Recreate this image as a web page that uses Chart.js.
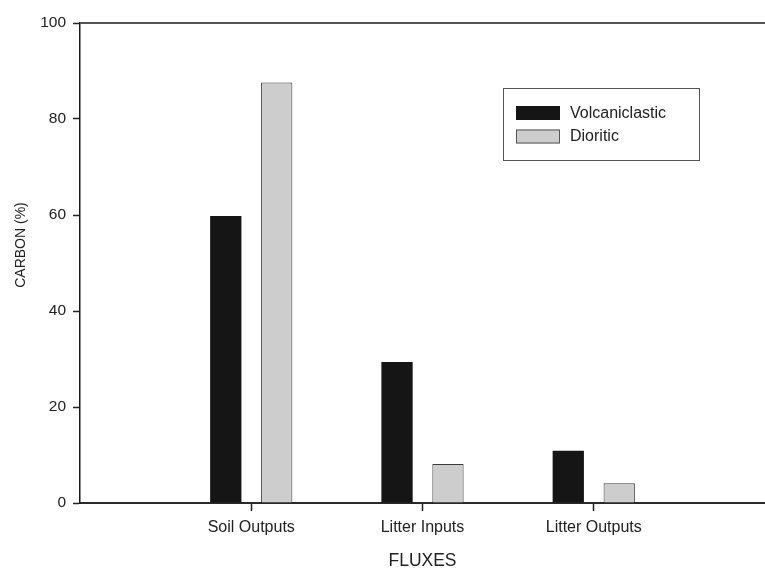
<!DOCTYPE html>
<html>
<head>
<meta charset="utf-8">
<script src="https://cdn.jsdelivr.net/npm/chart.js@4/dist/chart.umd.min.js"></script>
<style>
  html, body { margin: 0; padding: 0; background: #fff; }
  canvas { display: block; }
</style>
</head>
<body>
<canvas id="chart" width="765" height="568"></canvas>
<script>
// Carbon fluxes by substrate type
const categories = ['Soil Outputs', 'Litter Inputs', 'Litter Outputs'];
const categoryPositions = [1, 2, 3];
const volcaniclastic = [59.8, 29.4, 10.9];
const dioritic = [87.6, 8.1, 4.1];
const yTicks = [0, 20, 40, 60, 80, 100];
const seriesNames = ['Volcaniclastic', 'Dioritic'];
const yAxisTitle = 'CARBON (%)';
const xAxisTitle = 'FLUXES';

const FONT = '"Liberation Sans", Arial, Helvetica, sans-serif';

function toPoints(values) {
  return categoryPositions.map((x, i) => ({ x: x, y: values[i] }));
}

// Top frame line, the vertical axis title and the boxed legend
const framePlugin = {
  id: 'frameAndLegend',
  afterDraw(chart) {
    const { ctx, chartArea } = chart;
    ctx.save();
    ctx.strokeStyle = '#555';
    ctx.lineWidth = 2;
    ctx.beginPath();
    ctx.moveTo(chartArea.left, chartArea.top);
    ctx.lineTo(chartArea.right, chartArea.top);
    ctx.stroke();

    // vertical axis title, sitting a little above the middle of the axis
    ctx.save();
    ctx.translate(21, 245);
    ctx.rotate(-Math.PI / 2);
    ctx.font = '14px ' + FONT;
    ctx.fillStyle = '#222';
    ctx.textAlign = 'center';
    ctx.textBaseline = 'middle';
    ctx.fillText(yAxisTitle, 0, 0);
    ctx.restore();

    // legend box
    const bx = 503.5, by = 88.5, bw = 196, bh = 72;
    ctx.lineWidth = 1;
    ctx.strokeStyle = '#555';
    ctx.strokeRect(bx, by, bw, bh);
    ctx.font = '16px ' + FONT;
    ctx.textBaseline = 'middle';
    chart.data.datasets.forEach((ds, i) => {
      const sy = 106 + i * 23.5;
      ctx.fillStyle = ds.backgroundColor;
      ctx.fillRect(516, sy, 44, 14);
      ctx.strokeStyle = ds.legendBorder;
      ctx.strokeRect(516.5, sy + 0.5, 43, 13);
      ctx.fillStyle = '#222';
      ctx.fillText(ds.label, 570, sy + 7.5);
    });
    ctx.restore();
  }
};

new Chart(document.getElementById('chart'), {
  type: 'bar',
  data: {
    datasets: [
      {
        label: seriesNames[0],
        data: toPoints(volcaniclastic),
        backgroundColor: '#151515',
        borderColor: '#151515',
        legendBorder: '#151515',
        borderWidth: 0
      },
      {
        label: seriesNames[1],
        data: toPoints(dioritic),
        backgroundColor: '#cdcdcd',
        borderColor: '#3a3a3a',
        legendBorder: '#555',
        borderWidth: 1
      }
    ]
  },
  options: {
    responsive: false,
    animation: false,
    devicePixelRatio: 1,
    categoryPercentage: 0.595,
    barPercentage: 0.614,
    layout: { padding: { top: 23, right: 0, left: 0, bottom: 0 } },
    plugins: {
      legend: { display: false },
      tooltip: { enabled: false }
    },
    scales: {
      x: {
        type: 'linear',
        min: 0,
        max: 4,
        offset: false,
        afterBuildTicks(scale) {
          scale.ticks = categoryPositions.map(v => ({ value: v }));
        },
        afterFit(scale) { scale.height = 65; },
        ticks: {
          autoSkip: false,
          maxRotation: 0,
          padding: 7,
          color: '#222',
          font: { family: FONT, size: 16 },
          callback(value) {
            const i = categoryPositions.indexOf(value);
            return i >= 0 ? categories[i] : '';
          }
        },
        grid: {
          offset: false,
          drawOnChartArea: false,
          drawTicks: true,
          tickLength: 8,
          tickWidth: 1.5,
          tickColor: '#222'
        },
        border: { display: true, color: '#2a2a2a', width: 2 },
        title: {
          display: true,
          text: xAxisTitle,
          color: '#222',
          font: { family: FONT, size: 17.5 },
          padding: { top: 0, bottom: -4 }
        }
      },
      y: {
        type: 'linear',
        min: yTicks[0],
        max: yTicks[yTicks.length - 1],
        afterBuildTicks(scale) {
          scale.ticks = yTicks.map(v => ({ value: v }));
        },
        afterFit(scale) { scale.width = 80; },
        ticks: {
          padding: 7,
          color: '#222',
          font: { family: FONT, size: 15.5 }
        },
        grid: {
          drawOnChartArea: false,
          drawTicks: true,
          tickLength: 7,
          tickWidth: 1.5,
          tickColor: '#222'
        },
        border: { display: true, color: '#1a1a1a', width: 1.5 }
      }
    }
  },
  plugins: [framePlugin]
});
</script>
</body>
</html>
